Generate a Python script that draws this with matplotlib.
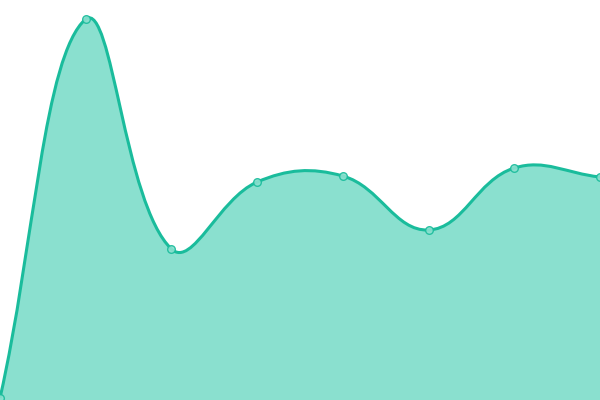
import numpy as np
import matplotlib
matplotlib.use("Agg")
import matplotlib.pyplot as plt
from matplotlib.path import Path
import matplotlib.patches as patches

# data
labels = ["0", "1", "2", "3", "4", "5", "6", "7"]
values = [2, 381, 151, 218, 224, 170, 232, 223]

LINE = "#1abc9c"
FILL = "#8ae0cf"
TENSION = 0.4

fig = plt.figure(figsize=(6, 4), dpi=100)
ax = fig.add_axes([0, 0, 1, 1])
ax.set_xlim(0, len(values) - 1)
ax.set_ylim(0, 400)
ax.axis("off")

# work in pixel space for the spline like a canvas chart would
sx = 600.0 / (len(values) - 1)
pts = np.array([[i * sx, 400 - v] for i, v in enumerate(values)], dtype=float)
n = len(pts)
cp_prev = pts.copy()
cp_next = pts.copy()
for i in range(n):
    prev = pts[i - 1] if i > 0 else pts[i]
    nxt = pts[i + 1] if i < n - 1 else pts[i]
    d01 = np.hypot(*(pts[i] - prev))
    d12 = np.hypot(*(nxt - pts[i]))
    tot = d01 + d12
    s01 = d01 / tot if tot else 0
    s12 = d12 / tot if tot else 0
    cp_prev[i] = pts[i] - TENSION * s01 * (nxt - prev)
    cp_next[i] = pts[i] + TENSION * s12 * (nxt - prev)
cp_prev = np.clip(cp_prev, [0, 0], [600, 400])
cp_next = np.clip(cp_next, [0, 0], [600, 400])

def to_data(p):
    return [p[0] / sx, 400 - p[1]]

verts = [to_data(pts[0])]
codes = [Path.MOVETO]
for i in range(n - 1):
    verts += [to_data(cp_next[i]), to_data(cp_prev[i + 1]), to_data(pts[i + 1])]
    codes += [Path.CURVE4] * 3

line_path = Path(verts, codes)
fill_verts = verts + [[n - 1, 0], [0, 0], verts[0]]
fill_codes = codes + [Path.LINETO, Path.LINETO, Path.CLOSEPOLY]
fill_path = Path(fill_verts, fill_codes)

ax.add_patch(patches.PathPatch(fill_path, facecolor=FILL, edgecolor="none"))
ax.add_patch(patches.PathPatch(line_path, facecolor="none", edgecolor=LINE, lw=2.2))
ax.plot(range(n), values, "o", ms=5.5, mfc=FILL, mec=LINE, mew=1.0, alpha=0.9)

fig.savefig("out.png", dpi=100)
